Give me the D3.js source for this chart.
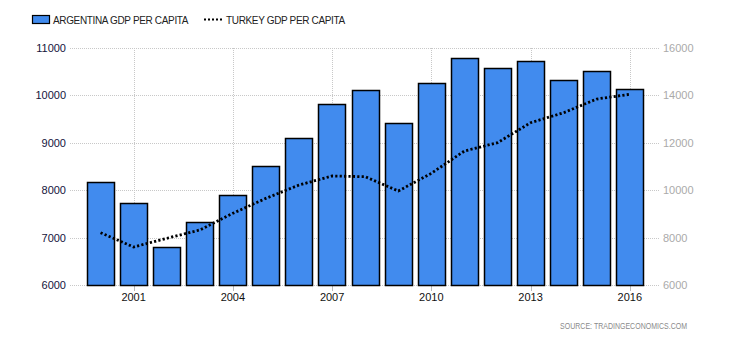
<!DOCTYPE html>
<html><head><meta charset="utf-8">
<script src="https://cdn.jsdelivr.net/npm/d3@7"></script>
<style>
body{margin:0;background:#fff;}
svg{display:block;font-family:"Liberation Sans",Arial,sans-serif;}
</style></head>
<body><svg id="c" width="730" height="340"></svg>
<script>
const years = [2000,2001,2002,2003,2004,2005,2006,2007,2008,2009,2010,2011,2012,2013,2014,2015,2016];
const argentina = [8175,7730,6800,7328,7900,8513,9106,9827,10123,9424,10271,10780,10568,10716,10335,10511,10144];
const turkey = [8207,7603,7969,8321,9024,9657,10219,10599,10570,9966,10713,11654,12004,12848,13270,13848,14046];
const xTickYears = [2001,2004,2007,2010,2013,2016];
const leftTicks = [6000,7000,8000,9000,10000,11000];
const rightTicks = [6000,8000,10000,12000,14000,16000];
const seriesNames = ["ARGENTINA GDP PER CAPITA","TURKEY GDP PER CAPITA"];
const sourceText = "SOURCE: TRADINGECONOMICS.COM";

const svg = d3.select("#c");
const plotL = 70, plotR = 660, plotT = 48, plotB = 285;
const x = d3.scaleBand().domain(years).range([84, 646.4]).paddingInner(0.175).paddingOuter(0.0875);
const yL = d3.scaleLinear().domain([6000,11000]).range([plotB, plotT]);
const yR = d3.scaleLinear().domain([6000,16000]).range([plotB, plotT]);
const cx = d => x(d) + x.bandwidth()/2;

// horizontal grid
svg.append("g").selectAll("line").data(leftTicks).join("line")
  .attr("x1", plotL).attr("x2", plotR)
  .attr("y1", d=>Math.round(yL(d))+0.5).attr("y2", d=>Math.round(yL(d))+0.5)
  .attr("stroke","#c8c8c8").attr("stroke-dasharray","1,1");
// vertical grid
svg.append("g").selectAll("line").data(xTickYears).join("line")
  .attr("x1", d=>Math.round(cx(d))+0.5).attr("x2", d=>Math.round(cx(d))+0.5)
  .attr("y1", plotT).attr("y2", plotB)
  .attr("stroke","#c8c8c8").attr("stroke-dasharray","1,1");
// x ticks
svg.append("g").selectAll("line").data(xTickYears).join("line")
  .attr("x1", d=>Math.round(cx(d))+0.5).attr("x2", d=>Math.round(cx(d))+0.5)
  .attr("y1", plotB).attr("y2", plotB+6)
  .attr("stroke","#bbb");

// bars
svg.append("g").selectAll("rect").data(years).join("rect")
  .attr("x", d=>Math.round(x(d))+0.5)
  .attr("width", Math.round(x.bandwidth()))
  .attr("y", (d,i)=>Math.round(yL(argentina[i]))+0.5)
  .attr("height", (d,i)=>Math.round(plotB) - Math.round(yL(argentina[i])))
  .attr("fill","#418bee").attr("stroke","#000").attr("stroke-width",1.5);

// line
const line = d3.line().x((d,i)=>cx(years[i])).y(d=>yR(d)).curve(d3.curveLinear);
svg.append("path").datum(turkey).attr("d", line)
  .attr("fill","none").attr("stroke","#000").attr("stroke-width",2.8)
  .attr("stroke-dasharray","2.2,2.2");

// left axis labels
svg.append("g").selectAll("text").data(leftTicks).join("text")
  .attr("x", 66).attr("y", d=>yL(d)+4)
  .attr("text-anchor","end").attr("font-size","11px").attr("fill","#14143c")
  .text(d=>d);
// right axis labels
svg.append("g").selectAll("text").data(rightTicks).join("text")
  .attr("x", 663).attr("y", d=>yR(d)+4)
  .attr("text-anchor","start").attr("font-size","11px").attr("fill","#aaaaaa")
  .text(d=>d);
// x labels
svg.append("g").selectAll("text").data(xTickYears).join("text")
  .attr("x", d=>cx(d)).attr("y", 301)
  .attr("text-anchor","middle").attr("font-size","11px").attr("fill","#111")
  .text(d=>d);

// legend
svg.append("rect").attr("x",32.5).attr("y",15.5).attr("width",17).attr("height",8)
  .attr("fill","#418bee").attr("stroke","#000").attr("stroke-width",1.2);
svg.append("text").attr("x",53).attr("y",23.5).attr("font-size","10px").attr("fill","#222")
  .attr("letter-spacing","-0.35px").text(seriesNames[0]);
svg.append("line").attr("x1",204).attr("x2",222).attr("y1",19.5).attr("y2",19.5)
  .attr("stroke","#000").attr("stroke-width",2).attr("stroke-dasharray","2,2");
svg.append("text").attr("x",226).attr("y",23.5).attr("font-size","10px").attr("fill","#222")
  .attr("letter-spacing","-0.35px").text(seriesNames[1]);

// source
svg.append("text").attr("transform","translate(687,329) scale(0.78,1)").attr("text-anchor","end")
  .attr("font-size","9px").attr("fill","#8a8a8a").text(sourceText);
</script></body></html>
